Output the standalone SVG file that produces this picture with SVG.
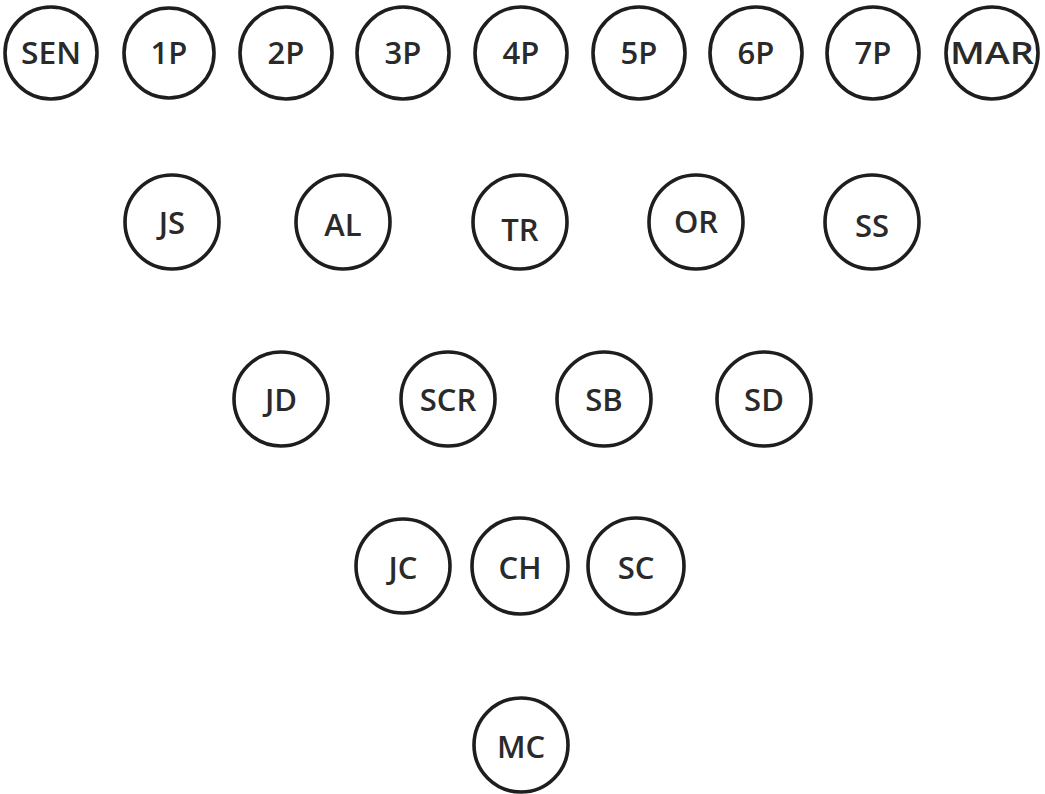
<svg xmlns="http://www.w3.org/2000/svg" width="1045" height="794" viewBox="0 0 1045 794">
<style>
.n circle{fill:#fff;stroke:#1e1e1e;stroke-width:3.6}
.n text{font-family:"Open Sans","DejaVu Sans",sans-serif;font-weight:600;font-size:31px;fill:#2a2a2a;text-anchor:middle}
</style>
<rect width="1045" height="794" fill="#fff"/>
<g id="connectors"></g>
<g id="SEN" class="n"><circle cx="51" cy="53" r="46"/><text x="51" y="64" textLength="60" lengthAdjust="spacingAndGlyphs">SEN</text></g>
<g id="P1" class="n"><circle cx="169" cy="53" r="45"/><text x="169" y="64">1P</text></g>
<g id="P2" class="n"><circle cx="286" cy="53" r="46"/><text x="286" y="64">2P</text></g>
<g id="P3" class="n"><circle cx="403" cy="53" r="46"/><text x="403" y="64">3P</text></g>
<g id="P4" class="n"><circle cx="521" cy="53" r="46"/><text x="521" y="64">4P</text></g>
<g id="P5" class="n"><circle cx="639" cy="53" r="46"/><text x="639" y="64">5P</text></g>
<g id="P6" class="n"><circle cx="756" cy="53" r="46"/><text x="756" y="64">6P</text></g>
<g id="P7" class="n"><circle cx="873" cy="53" r="46"/><text x="873" y="64">7P</text></g>
<g id="MAR" class="n"><circle cx="992" cy="53" r="46"/><text x="992" y="64" textLength="84" lengthAdjust="spacingAndGlyphs">MAR</text></g>
<g id="JS" class="n"><circle cx="172" cy="222" r="47"/><text x="172" y="234">JS</text></g>
<g id="AL" class="n"><circle cx="343" cy="222" r="47"/><text x="343" y="236">AL</text></g>
<g id="TR" class="n"><circle cx="520" cy="222" r="47"/><text x="520" y="241">TR</text></g>
<g id="OR" class="n"><circle cx="696" cy="222" r="47"/><text x="696" y="233">OR</text></g>
<g id="SS" class="n"><circle cx="872" cy="222" r="47"/><text x="872" y="237">SS</text></g>
<g id="JD" class="n"><circle cx="281" cy="399" r="47"/><text x="281" y="411">JD</text></g>
<g id="SCR" class="n"><circle cx="448" cy="399" r="47"/><text x="448" y="411">SCR</text></g>
<g id="SB" class="n"><circle cx="604" cy="399" r="47"/><text x="604" y="411">SB</text></g>
<g id="SD" class="n"><circle cx="764" cy="399" r="47"/><text x="764" y="411">SD</text></g>
<g id="JC" class="n"><circle cx="403" cy="566" r="47"/><text x="403" y="579">JC</text></g>
<g id="CH" class="n"><circle cx="520" cy="566" r="48"/><text x="520" y="579">CH</text></g>
<g id="SC" class="n"><circle cx="636" cy="566" r="48"/><text x="636" y="579">SC</text></g>
<g id="MC" class="n"><circle cx="521" cy="745" r="47"/><text x="521" y="758">MC</text></g>
</svg>
